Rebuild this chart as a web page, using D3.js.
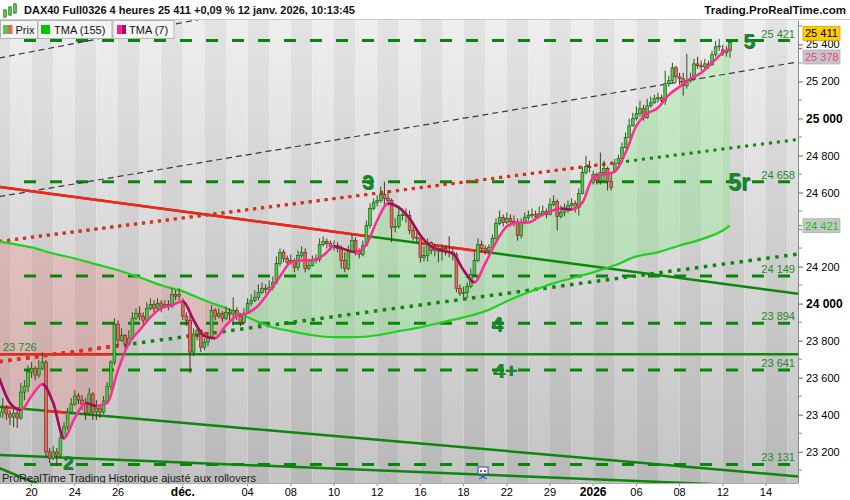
<!DOCTYPE html>
<html>
<head>
<meta charset="utf-8">
<script src="https://cdn.jsdelivr.net/npm/d3@7"></script>
<style>
  body { margin: 0; background: #fff; }
  svg { display: block; font-family: "Liberation Sans", Arial, sans-serif; }
</style>
</head>
<body>
<svg id="chart" width="850" height="500"></svg>
<script>
// Trading days shown (4h bars, 6 bars per day). Only the last 3 bars of the first day are visible.
const days = [
  "2025-11-18", "2025-11-19", "2025-11-20", "2025-11-21", "2025-11-24", "2025-11-25",
  "2025-11-26", "2025-11-27", "2025-11-28", "2025-12-01", "2025-12-02", "2025-12-03",
  "2025-12-04", "2025-12-05", "2025-12-08", "2025-12-09", "2025-12-10", "2025-12-11",
  "2025-12-12", "2025-12-15", "2025-12-16", "2025-12-17", "2025-12-18", "2025-12-19",
  "2025-12-22", "2025-12-23", "2025-12-29", "2025-12-30", "2026-01-02", "2026-01-05",
  "2026-01-06", "2026-01-07", "2026-01-08", "2026-01-09", "2026-01-12", "2026-01-13",
  "2026-01-14", "2026-01-15"
];
const barsPerDay = 6;
const firstSlot = 3; // first candle = 4th bar of days[0]

// candles: [open, high, low, close]
const ohlc = [
  [23387,23479,23344,23414],[23414,23490,23382,23436],[23436,23452,23371,23404],
  [23404,23425,23344,23387],[23387,23452,23333,23409],[23409,23425,23328,23382],
  [23382,23571,23371,23522],[23522,23587,23479,23554],[23554,23667,23522,23630],
  [23630,23684,23598,23651],[23651,23662,23587,23614],[23614,23694,23598,23651],
  [23651,23738,23641,23684],[23684,23694,23166,23199],[23199,23220,23139,23166],
  [23166,23231,23155,23199],[23199,23220,23123,23182],[23182,23296,23166,23274],
  [23274,23360,23263,23333],[23333,23436,23317,23414],[23414,23490,23404,23457],
  [23457,23533,23447,23501],[23501,23517,23457,23479],[23479,23506,23425,23457],
  [23457,23490,23371,23409],[23409,23544,23398,23511],[23511,23522,23371,23414],
  [23414,23479,23371,23436],[23436,23452,23382,23414],[23414,23501,23404,23474],
  [23474,23576,23457,23554],[23554,23694,23533,23684],[23684,23921,23667,23889],
  [23889,23910,23775,23802],[23802,23867,23792,23829],[23829,23835,23748,23781],
  [23781,23856,23770,23813],[23813,23953,23802,23921],[23921,23975,23910,23948],
  [23948,23986,23910,23932],[23932,23953,23878,23910],[23910,24007,23899,23975],
  [23975,24029,23964,23996],[23996,24018,23953,23975],[23975,24029,23964,24002],
  [24002,24018,23953,23986],[23986,24018,23975,23996],[23996,24018,23964,23986],
  [23986,24083,23975,24050],[24050,24072,24018,24040],[24040,24083,24018,24050],
  [24007,24029,23910,23932],[23932,23953,23878,23910],[23910,23937,23625,23738],
  [23738,23867,23716,23835],[23835,23883,23802,23856],[23856,23862,23738,23765],
  [23765,23813,23748,23792],[23792,23846,23770,23813],[23813,23991,23805,23964],
  [23964,23975,23910,23932],[23932,23975,23921,23948],[23948,23959,23899,23921],
  [23921,23986,23910,23953],[23953,23975,23910,23943],[23943,24034,23883,23964],
  [23964,23980,23910,23932],[23932,23948,23878,23899],[23899,23975,23889,23948],
  [23948,24029,23943,24002],[24002,24050,23986,24018],[24018,24072,24007,24034],
  [24034,24104,24018,24061],[24061,24115,24050,24083],[24083,24104,24056,24077],
  [24077,24126,24061,24088],[24088,24147,24072,24115],[24115,24255,24104,24217],
  [24217,24298,24201,24277],[24277,24293,24223,24244],[24244,24260,24201,24223],
  [24223,24266,24212,24233],[24233,24244,24169,24196],[24196,24287,24180,24260],
  [24260,24309,24244,24277],[24277,24298,24169,24190],[24190,24233,24180,24206],
  [24206,24260,24201,24233],[24233,24266,24217,24239],[24239,24352,24223,24320],
  [24320,24363,24309,24336],[24336,24352,24298,24325],[24325,24341,24287,24309],
  [24309,24341,24287,24314],[24314,24331,24277,24298],[24298,24314,24190,24233],
  [24233,24277,24169,24190],[24190,24314,24180,24287],[24287,24374,24277,24341],
  [24341,24358,24260,24287],[24287,24298,24244,24266],[24266,24341,24255,24314],
  [24314,24449,24309,24422],[24422,24541,24406,24514],[24514,24568,24503,24546],
  [24546,24584,24525,24557],[24557,24632,24546,24589],[24589,24659,24535,24568],
  [24568,24611,24530,24557],[24557,24568,24331,24412],[24412,24460,24385,24417],
  [24417,24530,24406,24476],[24476,24514,24449,24482],[24482,24514,24438,24476],
  [24476,24503,24374,24395],[24395,24417,24341,24358],[24358,24385,24331,24352],
  [24352,24358,24223,24250],[24250,24309,24228,24260],[24260,24352,24228,24331],
  [24331,24336,24266,24287],[24287,24325,24255,24298],[24298,24309,24223,24282],
  [24282,24320,24233,24298],[24298,24314,24260,24282],[24282,24363,24250,24277],
  [24277,24298,24233,24266],[24266,24277,24061,24083],[24083,24104,24040,24056],
  [24056,24093,24034,24061],[24061,24115,24029,24093],[24093,24190,24083,24158],
  [24158,24277,24147,24233],[24233,24352,24223,24320],[24320,24341,24277,24298],
  [24298,24314,24266,24287],[24287,24320,24266,24304],[24304,24374,24287,24352],
  [24352,24460,24341,24433],[24433,24503,24422,24465],[24465,24482,24417,24438],
  [24438,24492,24428,24460],[24460,24482,24417,24444],[24444,24476,24417,24438],
  [24438,24460,24341,24368],[24368,24460,24352,24438],[24438,24492,24428,24465],
  [24465,24503,24449,24476],[24476,24514,24460,24482],[24482,24503,24449,24471],
  [24471,24525,24460,24487],[24487,24530,24471,24498],[24498,24514,24460,24482],
  [24482,24568,24476,24535],[24535,24584,24525,24552],[24552,24562,24395,24471],
  [24471,24530,24460,24492],[24492,24541,24471,24514],[24514,24557,24492,24530],
  [24530,24568,24503,24541],[24541,24557,24492,24519],[24519,24622,24476,24595],
  [24595,24740,24589,24708],[24708,24799,24697,24740],[24740,24772,24708,24735],
  [24654,24718,24643,24697],[24697,24708,24643,24665],[24665,24816,24643,24708],
  [24708,24772,24665,24730],[24730,24740,24611,24660],[24660,24702,24611,24627],
  [24718,24783,24708,24756],[24756,24805,24751,24783],[24783,24870,24778,24843],
  [24843,24924,24837,24897],[24897,24999,24891,24961],[24961,25031,24956,24999],
  [24999,25064,24988,25026],[25026,25096,25010,25053],[25053,25074,24988,25004],
  [25004,25107,24999,25069],[25069,25118,25058,25085],[25085,25128,25080,25107],
  [25107,25139,25085,25112],[25112,25128,25074,25096],[25096,25258,25074,25188],
  [25188,25231,25171,25204],[25204,25301,25193,25274],[25274,25285,25193,25225],
  [25225,25247,25182,25215],[25215,25247,25123,25177],[25177,25349,25161,25204],
  [25204,25247,25193,25215],[25215,25322,25204,25295],[25295,25333,25268,25285],
  [25285,25312,25258,25279],[25279,25322,25268,25295],[25295,25312,25268,25290],
  [25290,25365,25285,25344],[25344,25419,25333,25387],[25387,25430,25365,25392],
  [25371,25398,25338,25355],[25355,25392,25333,25365],[25365,25419,25328,25411]
];

// TMA (7): [bar slot, value]
const tma7 = [
  [3,23598],[6,23463],[9,23425],[12,23501],[15,23565],[18,23463],[21,23274],[24,23382],
  [27,23463],[30,23447],[33,23463],[36,23641],[39,23786],[42,23856],[45,23926],[48,23975],
  [51,23991],[54,24013],[57,23910],[60,23824],[63,23813],[66,23883],[69,23932],[72,23948],
  [75,23991],[78,24066],[81,24147],[84,24223],[87,24233],[90,24236],[93,24260],[96,24309],
  [99,24293],[102,24277],[105,24320],[108,24449],[111,24541],[114,24519],[117,24460],[120,24368],
  [123,24309],[126,24287],[129,24271],[132,24180],[135,24115],[138,24217],[141,24331],[144,24417],
  [147,24438],[150,24438],[153,24471],[156,24498],[159,24514],[162,24508],[165,24546],[168,24681],
  [171,24697],[174,24713],[177,24816],[180,24961],[183,25026],[186,25058],[189,25128],[192,25171],
  [195,25215],[198,25247],[201,25301],[204,25355],[206,25378]
];

// TMA (155): [bar slot, value]
const tma155 = [
  [3,24336],[6,24325],[12,24304],[18,24271],[24,24244],[30,24212],[36,24180],[42,24142],
  [48,24099],[54,24066],[60,24018],[66,23975],[72,23926],[78,23878],[84,23851],[90,23829],
  [96,23819],[102,23819],[108,23829],[114,23851],[120,23872],[126,23899],[132,23926],[138,23959],
  [144,24013],[150,24061],[156,24104],[162,24137],[168,24169],[174,24207],[180,24255],[186,24277],
  [192,24314],[198,24347],[204,24395],[206,24421]
];

// horizontal target levels and wave labels
const levels = [25421, 24658, 24149, 23894, 23641, 23131];
const waveText = ["5", "5r", "3", "4", "4+", "2"];
const waveSlot = [211.3, 208.5, 105.4, 141.3, 143.5, 22.1];
const wavePrice = [25421, 24658, 24658, 23894, 23641, 23131];

// trend lines: two anchor points [slot, price]; red spans in slots
const channelTop = [[3, 25327], [66, 25563]];
const channelMid = [[3, 24578], [225, 25306]];
const resistLine = [[3, 24630], [225, 24053]];
const resistRed = [[3, 104.6], [119.9, 138.5]];
const dotUpper = [[3, 24336], [225, 24887]];
const dotUpperRed = [[3, 174]];
const dotLower = [[3, 23686], [225, 24268]];
const dotLowerRed = [[3, 36.6], [54.6, 62.9]];
const flatLine = [[3, 23726], [225, 23726]];
const flatRed = [[3, 33.8]];
const supportLine = [[3, 23443], [225, 23066]];
const supportRed = [[3.8, 8.8], [15.2, 21.8]];
const bottomLine = [[3, 23183], [225, 23006]];
const steepLine = [[3, 23112], [14.3, 23021]];
const eventSlot = 137.4;

// axis ticks
const tickDays = ["2025-11-20","2025-11-24","2025-11-26","2025-12-01","2025-12-04","2025-12-08",
  "2025-12-10","2025-12-12","2025-12-16","2025-12-18","2025-12-22","2025-12-29","2026-01-02",
  "2026-01-06","2026-01-08","2026-01-12","2026-01-14"];
const tickLabels = ["20","24","26","déc.","04","08","10","12","16","18","22","29","2026","06","08","12","14"];
const priceTicks = [23200, 23400, 23600, 23800, 24000, 24200, 24600, 24800, 25000, 25200, 25400];
const minorTicks = [23100, 23300, 23500, 23700, 23900, 24100, 24300, 24400, 24500, 24700, 24900, 25100, 25300, 25500];

const lastPrice = 25411, lastTma7 = 25378, lastTma155 = 24421;

// ---- layout
const W = 798, TOP = 20, BOTTOM = 483;
const svg = d3.select("#chart");
const x = d3.scaleLinear().domain([3.22, 224.89]).range([0, W]);
const y = d3.scaleLinear().domain([23031, 25532]).range([BOTTOM, TOP]);
const fmt = v => d3.format(",")(v).replace(/,/g, " ");

const defs = svg.append("defs");
function grad(id, top, bottom) {
  const g = defs.append("linearGradient").attr("id", id)
    .attr("gradientUnits", "userSpaceOnUse").attr("x1", 0).attr("y1", TOP).attr("x2", 0).attr("y2", BOTTOM);
  g.append("stop").attr("offset", 0).attr("stop-color", top);
  g.append("stop").attr("offset", 1).attr("stop-color", bottom);
}
grad("gLight", "#eeeeee", "#c4c4c4");
grad("gDark", "#e3e3e3", "#b8b8b8");
defs.append("clipPath").attr("id", "plotClip")
  .append("rect").attr("x", 0).attr("y", TOP).attr("width", W).attr("height", BOTTOM - TOP);

// background day bands
svg.append("g").selectAll("rect").data(days).join("rect")
  .attr("x", (d, i) => Math.max(0, x(i * barsPerDay)))
  .attr("y", TOP)
  .attr("width", (d, i) => Math.min(W, x((i + 1) * barsPerDay)) - Math.max(0, x(i * barsPerDay)))
  .attr("height", BOTTOM - TOP)
  .attr("fill", (d, i) => i % 2 === 0 ? "url(#gDark)" : "url(#gLight)");

const plot = svg.append("g").attr("clip-path", "url(#plotClip)");

// ---- fill between TMA(7) and TMA(155)
const curve = d3.curveMonotoneX;
const areaAbove = pts => d3.area().curve(curve).x(d => x(d[0])).y0(TOP).y1(d => y(d[1]))(pts);
const areaBelow = pts => d3.area().curve(curve).x(d => x(d[0])).y0(BOTTOM).y1(d => y(d[1]))(pts);
defs.append("clipPath").attr("id", "above155").append("path").attr("d", areaAbove(tma155));
defs.append("clipPath").attr("id", "below155").append("path").attr("d", areaBelow(tma155));
plot.append("path").attr("d", areaBelow(tma7)).attr("clip-path", "url(#above155)")
  .attr("fill", "rgb(120,235,120)").attr("fill-opacity", 0.32);
plot.append("path").attr("d", areaAbove(tma7)).attr("clip-path", "url(#below155)")
  .attr("fill", "rgb(255,90,90)").attr("fill-opacity", 0.2);

// ---- horizontal dashed levels
plot.append("g").selectAll("line").data(levels).join("line")
  .attr("x1", 24).attr("x2", W).attr("y1", d => y(d)).attr("y2", d => y(d))
  .attr("stroke", "#0a850a").attr("stroke-width", 3).attr("stroke-dasharray", "12,14");

// ---- trend lines
function linePath(pts) {
  const [a, b] = pts;
  return `M${x(a[0])},${y(a[1])}L${x(b[0])},${y(b[1])}`;
}
let clipId = 0;
function spanClip(spans) {
  const id = "span" + (clipId++);
  defs.append("clipPath").attr("id", id).selectAll("rect").data(spans).join("rect")
    .attr("x", d => x(d[0])).attr("width", d => x(d[1]) - x(d[0]))
    .attr("y", 0).attr("height", 500);
  return id;
}
function trend(pts, redSpans, width, dash) {
  const g = plot.append("g");
  const d = linePath(pts);
  const greenPath = g.append("path").attr("d", d).attr("fill", "none")
    .attr("stroke", "#0c870c").attr("stroke-width", width);
  if (dash) greenPath.attr("stroke-dasharray", dash);
  if (redSpans) {
    const id = spanClip(redSpans);
    const rp = g.append("path").attr("d", d).attr("fill", "none").attr("clip-path", `url(#${id})`)
      .attr("stroke", "#ff1e1e").attr("stroke-width", width);
    if (dash) rp.attr("stroke-dasharray", dash);
  }
}
[channelTop, channelMid].forEach(pts => {
  plot.append("path").attr("d", linePath(pts)).attr("fill", "none")
    .attr("stroke", "#3a3a3a").attr("stroke-width", 1.2).attr("stroke-dasharray", "6,4");
});
trend(resistLine, resistRed, 2.5);
trend(dotUpper, dotUpperRed, 3, "3,5");
trend(dotLower, dotLowerRed, 3.5, "3.5,5.5");
trend(flatLine, flatRed, 2.5);
trend(supportLine, supportRed, 2.5);
trend(bottomLine, null, 2.5);
trend(steepLine, null, 2.5);

// ---- TMA(155)
const line = d3.line().curve(curve).x(d => x(d[0])).y(d => y(d[1]));
plot.append("path").attr("d", line(tma155)).attr("fill", "none")
  .attr("stroke", "#1fd21f").attr("stroke-width", 2.2);

// ---- candles
const candles = plot.append("g");
ohlc.forEach((c, i) => {
  const [o, h, l, cl] = c;
  const cx = x(firstSlot + i);
  const up = cl >= o;
  candles.append("line").attr("x1", cx).attr("x2", cx).attr("y1", y(h)).attr("y2", y(l))
    .attr("stroke", up ? "#1f5a12" : "#5a2a1a").attr("stroke-width", 1);
  const top = Math.min(y(o), y(cl));
  candles.append("rect").attr("x", cx - 1.4).attr("width", 2.8)
    .attr("y", top).attr("height", Math.max(1, Math.abs(y(o) - y(cl))))
    .attr("fill", up ? "#52c552" : "#e06a5e")
    .attr("stroke", up ? "#1e6a12" : "#7a2e22").attr("stroke-width", 0.7);
});

// ---- TMA(7): pink when rising, maroon when falling
const tma7Path = line(tma7);
plot.append("path").attr("d", tma7Path).attr("fill", "none")
  .attr("stroke", "#ff2a92").attr("stroke-width", 2.5);
const falling = [];
for (let i = 0; i < tma7.length - 1; i++) {
  if (tma7[i + 1][1] < tma7[i][1]) {
    const last = falling[falling.length - 1];
    if (last && last[1] === tma7[i][0]) last[1] = tma7[i + 1][0];
    else falling.push([tma7[i][0], tma7[i + 1][0]]);
  }
}
const fid = spanClip(falling);
plot.append("path").attr("d", tma7Path).attr("fill", "none").attr("clip-path", `url(#${fid})`)
  .attr("stroke", "#9e1058").attr("stroke-width", 2.5);

// ---- level labels
plot.append("g").selectAll("text").data(levels).join("text")
  .attr("x", 795).attr("y", d => y(d) - 3).attr("text-anchor", "end")
  .attr("font-size", 11).attr("fill", "#24882a").text(fmt);
plot.append("text").attr("x", 3).attr("y", y(23726) - 3).attr("font-size", 11)
  .attr("fill", "#24882a").text(fmt(23726));

const waves = plot.append("g").attr("font-weight", "bold")
  .attr("text-anchor", "middle").attr("dominant-baseline", "central");
waveText.forEach((t, i) => {
  const fs = t === "5r" ? 23 : t === "2" ? 19 : 21;
  const wy = y(wavePrice[i]) - (t === "2" ? 2 : 0);
  waves.append("text").attr("x", x(waveSlot[i]) + 0.8).attr("y", wy + 0.8)
    .attr("font-size", fs).attr("fill", "#1c6e6e").text(t);
  waves.append("text").attr("x", x(waveSlot[i])).attr("y", wy)
    .attr("font-size", fs).attr("fill", "#168c16").text(t);
});

// footer text and event icon
svg.append("text").attr("x", 2).attr("y", 482).attr("font-size", 11).attr("fill", "#1a1a1a")
  .text("ProRealTime Trading  Historique ajusté aux rollovers");
const ev = svg.append("g").attr("transform", `translate(${x(eventSlot)},467)`);
ev.append("rect").attr("x", -5).attr("y", 0).attr("width", 10).attr("height", 7)
  .attr("fill", "#fff").attr("stroke", "#2f63c8").attr("stroke-width", 1.2);
ev.append("rect").attr("x", -3).attr("y", 3).attr("width", 2).attr("height", 2).attr("fill", "#e03030");
ev.append("rect").attr("x", 1).attr("y", 3).attr("width", 2).attr("height", 2).attr("fill", "#e03030");
ev.append("path").attr("d", "M-4,8L4,12M4,8L-4,12").attr("stroke", "#2f63c8").attr("stroke-width", 1.2);

// ---- right axis
svg.append("rect").attr("x", W).attr("y", TOP).attr("width", 850 - W).attr("height", 480)
  .attr("fill", "#fff");
svg.append("rect").attr("x", 0).attr("y", BOTTOM).attr("width", 850).attr("height", 500 - BOTTOM)
  .attr("fill", "#fff");
const yAxis = d3.axisRight(y).tickValues(priceTicks).tickSizeInner(5).tickSizeOuter(0)
  .tickPadding(3).tickFormat(fmt);
const ya = svg.append("g").attr("transform", `translate(${W},0)`).call(yAxis);
ya.select(".domain").attr("stroke", "#8a8a8a");
ya.selectAll(".tick line").attr("stroke", "#666");
ya.selectAll(".tick text").attr("font-family", "Liberation Sans, Arial")
  .attr("fill", "#000").attr("font-weight", d => d % 1000 === 0 ? "bold" : "normal")
  .style("font-size", d => d % 1000 === 0 ? "12px" : "11px");
ya.selectAll(".minor").data(minorTicks).join("line").attr("class", "minor")
  .attr("x1", 0).attr("x2", 4).attr("y1", d => y(d)).attr("y2", d => y(d)).attr("stroke", "#888");

// value tags
function tag(val, dy, fill, color, stroke) {
  const ty = y(val) + dy;
  svg.append("rect").attr("x", W + 5).attr("y", ty - 7).attr("width", 37).attr("height", 14)
    .attr("fill", fill).attr("stroke", stroke).attr("stroke-width", 0.8);
  svg.append("text").attr("x", W + 7).attr("y", ty + 4).attr("font-size", 11)
    .attr("fill", color).text(fmt(val));
}
tag(lastPrice, -9, "#ffcc00", "#000", "#d6a400");
tag(lastTma7, 8.5, "#c6c6c6", "#ef3c8c", "#b0b0b0");
tag(lastTma155, 0, "#c6c6c6", "#1fbf1f", "#b0b0b0");
svg.append("line").attr("x1", W).attr("x2", W + 4).attr("y1", y(lastTma7)).attr("y2", y(lastTma7))
  .attr("stroke", "#ff2a92").attr("stroke-width", 1.2);
svg.append("line").attr("x1", W).attr("x2", W + 4).attr("y1", y(lastTma155)).attr("y2", y(lastTma155))
  .attr("stroke", "#1fd21f").attr("stroke-width", 1.2);

// ---- bottom axis
const xa = svg.append("g");
tickDays.forEach((d, i) => {
  const tx = x(days.indexOf(d) * barsPerDay);
  xa.append("line").attr("x1", tx).attr("x2", tx).attr("y1", BOTTOM).attr("y2", BOTTOM + 3)
    .attr("stroke", "#888");
  const bold = tickLabels[i] === "déc." || tickLabels[i] === "2026";
  xa.append("text").attr("x", tx).attr("y", 496).attr("text-anchor", "middle")
    .attr("font-size", bold ? 12 : 11).attr("font-weight", bold ? "bold" : "normal")
    .attr("fill", "#000").text(tickLabels[i]);
});
svg.append("line").attr("x1", 0).attr("x2", W).attr("y1", BOTTOM + 0.5).attr("y2", BOTTOM + 0.5)
  .attr("stroke", "#aaa");

// ---- header
svg.append("rect").attr("x", 0).attr("y", 0).attr("width", 850).attr("height", TOP).attr("fill", "#fff");
svg.append("line").attr("x1", 0).attr("x2", 850).attr("y1", TOP - 0.5).attr("y2", TOP - 0.5)
  .attr("stroke", "#c8c8c8");
const icon = svg.append("g").attr("transform", "translate(3,3)");
[[2, 6, 12, 7, 10], [7, 3, 10, 4, 8], [12, 0, 8, 1, 6]].forEach(([cx, top, bot, bt, bh]) => {
  icon.append("line").attr("x1", cx).attr("x2", cx).attr("y1", top).attr("y2", bot + 3)
    .attr("stroke", "#2a7a1a");
  icon.append("rect").attr("x", cx - 1.5).attr("y", bt).attr("width", 3).attr("height", bh - bt + 4)
    .attr("fill", "#52c552").attr("stroke", "#2a7a1a").attr("stroke-width", 0.6);
});
svg.append("text").attr("x", 24).attr("y", 14).attr("font-size", 11).attr("font-weight", "bold")
  .attr("fill", "#111").text("DAX40 Full0326 4 heures 25 411 +0,09 % 12 janv. 2026, 10:13:45");
svg.append("text").attr("x", 846).attr("y", 14).attr("text-anchor", "end").attr("font-size", 11.5)
  .attr("font-weight", "bold").attr("fill", "#111").text("Trading.ProRealTime.com");

// ---- legend
const legend = svg.append("g").attr("font-size", 11).attr("fill", "#111");
const boxes = [[0.5, 37], [38, 74], [113, 61]];
boxes.forEach(([bx, bw]) => legend.append("rect").attr("x", bx).attr("y", 20.5).attr("width", bw)
  .attr("height", 18).attr("fill", "#f4f4f4").attr("stroke", "#b4b4b4"));
legend.append("rect").attr("x", 3).attr("y", 25).attr("width", 5).attr("height", 9).attr("fill", "#52c552");
legend.append("rect").attr("x", 8).attr("y", 25).attr("width", 4.5).attr("height", 9).attr("fill", "#e06a5e");
legend.append("text").attr("x", 15.5).attr("y", 33.5).text("Prix");
legend.append("rect").attr("x", 41).attr("y", 25).attr("width", 9).attr("height", 9).attr("fill", "#00c800");
legend.append("text").attr("x", 54).attr("y", 33.5).text("TMA (155)");
legend.append("rect").attr("x", 117).attr("y", 25).attr("width", 4.5).attr("height", 9).attr("fill", "#ff1a8c");
legend.append("rect").attr("x", 121.5).attr("y", 25).attr("width", 4.5).attr("height", 9).attr("fill", "#9e1058");
legend.append("text").attr("x", 129).attr("y", 33.5).text("TMA (7)");
</script>
</body>
</html>
